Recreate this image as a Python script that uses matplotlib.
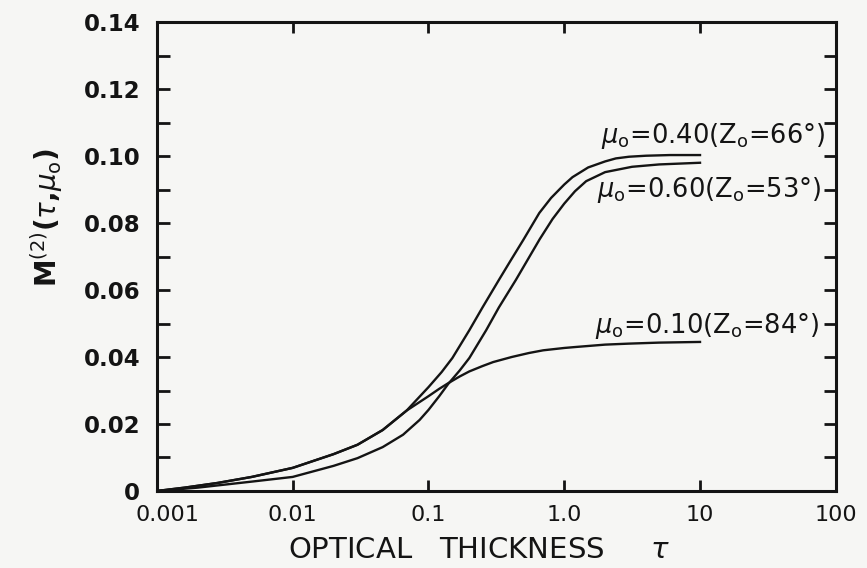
import numpy as np
import matplotlib
matplotlib.use("Agg")
import matplotlib.pyplot as plt
from matplotlib.ticker import FixedLocator, MultipleLocator
from matplotlib.transforms import ScaledTranslation

# optical thickness and M(2) values
tau_40 = [0.001, 0.0016, 0.0028, 0.005, 0.01, 0.02, 0.03, 0.046, 0.069, 0.1, 0.125, 0.15,
          0.2, 0.25, 0.33, 0.4, 0.5, 0.655, 0.8, 1.0, 1.15, 1.5, 2.0, 2.4, 3.0, 4.0, 6.0, 10.0]
m_40 = [0.0, 0.001, 0.0024, 0.0042, 0.0069, 0.011, 0.0138, 0.0182, 0.024, 0.031, 0.0355,
        0.0397, 0.048, 0.0548, 0.063, 0.0686, 0.075, 0.083, 0.0875, 0.0915, 0.0937, 0.0966,
        0.0984, 0.0993, 0.0998, 0.1001, 0.1003, 0.1003]

tau_60 = [0.001, 0.002, 0.005, 0.01, 0.02, 0.03, 0.046, 0.065, 0.086, 0.1, 0.12, 0.14,
          0.17, 0.2, 0.266, 0.33, 0.44, 0.53, 0.66, 0.82, 1.0, 1.2, 1.45, 2.0, 3.16, 5.0, 10.0]
m_60 = [0.0, 0.001, 0.0028, 0.0042, 0.0075, 0.0098, 0.0131, 0.0168, 0.0212, 0.0242,
        0.0283, 0.032, 0.036, 0.0397, 0.048, 0.0548, 0.063, 0.0686, 0.0752, 0.0812, 0.0858,
        0.0895, 0.0925, 0.0952, 0.0968, 0.0975, 0.098]

tau_10 = [0.001, 0.0016, 0.0028, 0.005, 0.01, 0.02, 0.03, 0.046, 0.069, 0.1, 0.12, 0.14,
          0.17, 0.2, 0.25, 0.3, 0.41, 0.55, 0.7, 1.0, 1.22, 2.0, 3.0, 5.0, 10.0]
m_10 = [0.0, 0.001, 0.0024, 0.0042, 0.0069, 0.011, 0.0138, 0.0182, 0.024, 0.0283, 0.0305,
        0.0322, 0.0342, 0.0357, 0.0373, 0.0385, 0.040, 0.0412, 0.042, 0.0427, 0.043, 0.0437,
        0.044, 0.0443, 0.0445]

labels = [r"$\mu_\mathsf{o}$=0.40(Z$_\mathsf{o}$=66°)",
          r"$\mu_\mathsf{o}$=0.60(Z$_\mathsf{o}$=53°)",
          r"$\mu_\mathsf{o}$=0.10(Z$_\mathsf{o}$=84°)"]
# right end of each curve label (tau, M)
label_pos = [(83.0, 0.1039), (77.6, 0.0878), (75.0, 0.0472)]

x_ticks = [0.001, 0.01, 0.1, 1.0, 10, 100]
x_ticklabels = ["0.001", "0.01", "0.1", "1.0", "10", "100"]
y_ticks = [0, 0.02, 0.04, 0.06, 0.08, 0.10, 0.12, 0.14]
y_ticklabels = ["0", "0.02", "0.04", "0.06", "0.08", "0.10", "0.12", "0.14"]

ink = "#141414"
paper = "#f6f6f4"

fig = plt.figure(figsize=(8.67, 5.68), dpi=100, facecolor=paper)
ax = fig.add_axes([0.181, 0.1356, 0.783, 0.8255])
ax.set_facecolor(paper)

for t, m in [(tau_40, m_40), (tau_60, m_60), (tau_10, m_10)]:
    ax.plot(t, m, color=ink, lw=1.7, solid_joinstyle="round")

for txt, (x, y) in zip(labels, label_pos):
    ax.text(x, y, txt, ha="right", va="baseline", fontsize=18.5, color=ink)

ax.set_xscale("log")
ax.set_xlim(0.001, 100)
ax.set_ylim(0, 0.14)

ax.xaxis.set_major_locator(FixedLocator(x_ticks))
ax.xaxis.set_minor_locator(FixedLocator([]))
ax.set_xticklabels(x_ticklabels)
ax.yaxis.set_major_locator(FixedLocator(y_ticks))
ax.yaxis.set_minor_locator(MultipleLocator(0.01))
ax.set_yticklabels(y_ticklabels)

ax.tick_params(axis="both", which="both", direction="in", top=True, right=True,
               color=ink, width=2)
ax.tick_params(axis="x", which="major", length=8, labelsize=16, pad=10, labelcolor=ink)
ax.tick_params(axis="y", which="both", length=9, labelsize=16.5, pad=12, labelcolor=ink)
for lab in ax.get_yticklabels():
    lab.set_fontweight("bold")

# nudge the first x label clear of the "0" on the y axis
first = ax.get_xticklabels()[0]
first.set_transform(first.get_transform() + ScaledTranslation(0.11, 0, fig.dpi_scale_trans))

for sp in ax.spines.values():
    sp.set_linewidth(2.2)
    sp.set_color(ink)

ax.set_xlabel(r"OPTICAL   THICKNESS     $\tau$", fontsize=21, color=ink)
ax.xaxis.set_label_coords(0.475, -0.095)
ax.set_ylabel(r"M$^{(2)}$($\tau$,$\mu_\mathsf{o}$)", fontsize=20, color=ink,
              fontweight="bold")
ax.yaxis.set_label_coords(-0.135, 0.584)

fig.savefig("out.png", dpi=100, facecolor=paper)
